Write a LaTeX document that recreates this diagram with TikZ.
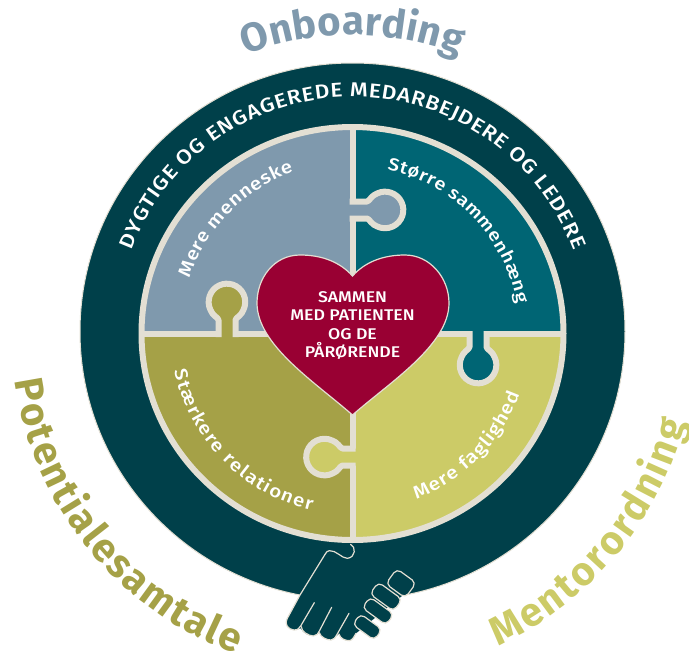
\documentclass[tikz,border=0pt]{standalone}
\usepackage{fontspec}
\setmainfont{Fira Sans}
\newfontfamily\widefont[FakeStretch=1.14]{Fira Sans Medium}
\usetikzlibrary{decorations.text}
\definecolor{ringdark}{HTML}{00404A}
\definecolor{teal}{HTML}{006574}
\definecolor{greyblue}{HTML}{7F99AD}
\definecolor{olive}{HTML}{A5A147}
\definecolor{yellowg}{HTML}{CCCB67}
\definecolor{beige}{HTML}{E3DFD3}
\definecolor{heartred}{HTML}{990033}
\tikzset{
  curvetext/.style={decorate,decoration={text along path,text align={fit to path},text={#1}}},
  handline/.style={draw=beige,line width=1.2pt,line join=round,line cap=round},
  seam/.style={draw=beige,line width=6pt},
}
\newcommand{\knob}[5]{% x, y, rotate, distance, colour
  \begin{scope}[shift={(#1,#2)},rotate=#3]
  \fill[#5] (-8.5,4) -- (-8.5,-#4+18) .. controls (-8.5,-#4+16) and (-15,-#4+13) .. (-16.5,-#4+8)
     arc[start angle=154,end angle=386,radius=18.3]
     .. controls (15,-#4+13) and (8.5,-#4+16) .. (8.5,-#4+18) -- (8.5,4) -- cycle;
  \draw[seam,line join=round] (-8.5,3) -- (-8.5,-#4+18) .. controls (-8.5,-#4+16) and (-15,-#4+13) .. (-16.5,-#4+8)
     arc[start angle=154,end angle=386,radius=18.3]
     .. controls (15,-#4+13) and (8.5,-#4+16) .. (8.5,-#4+18) -- (8.5,3);
  \end{scope}}
\begin{document}
\begin{tikzpicture}[x=1pt,y=-1pt]
\useasboundingbox (0,0) rectangle (689,657);
\def\cx{352.5}\def\cy{333}
\coordinate (C) at (\cx,\cy);
% ring
\fill[ringdark,draw=beige,line width=1pt] (352.5,331.5) ellipse[x radius=272.5,y radius=268.5];
% quadrants
\begin{scope}
\clip (352.5,333.5) ellipse[x radius=211,y radius=206.5];
\fill[greyblue] (\cx-215,\cy-215) rectangle (\cx,\cy+1);
\fill[teal] (\cx,\cy-215) rectangle (\cx+215,\cy+1);
\fill[olive] (\cx-215,\cy+1) rectangle (\cx,\cy+215);
\fill[yellowg] (\cx,\cy+1) rectangle (\cx+215,\cy+215);
\end{scope}
\draw[seam] (352.5,333.5) ellipse[x radius=211,y radius=206.5];
% straight seams
\draw[seam] (\cx,\cy-207) -- (\cx,\cy+207);
\draw[seam] (\cx-211,\cy+1) -- (\cx+211,\cy+1);
\knob{227}{334}{0}{32}{olive}
\knob{352.5}{210}{-90}{32.5}{greyblue}
\knob{478}{334}{180}{31}{teal}
\knob{352.5}{457}{90}{28}{yellowg}
% heart
\draw[fill=heartred,draw=beige,line width=1.2pt] (352.5,276)
  .. controls (340,262) and (322,255) .. (300,255)
  .. controls (274,255) and (257,278) .. (257,303)
  .. controls (257,345) and (315,382) .. (352.5,415)
  .. controls (390,382) and (449,345) .. (449,303)
  .. controls (449,278) and (430,255) .. (405,255)
  .. controls (383,255) and (365,262) .. (352.5,276) -- cycle;
\node[white,font=\fontsize{15.5}{18.4}\selectfont\widefont,align=center,inner sep=0] (hearttext) at (352.5,325.5) {SAMMEN\\MED PATIENTEN\\OG DE\\PÅRØRENDE};
% curved text
\path[curvetext={|\fontsize{20}{20}\selectfont\widefont\color{white}|DYGTIGE OG ENGAGEREDE MEDARBEJDERE OG LEDERE}] (C) ++(200.5:236) arc[start angle=200.5,end angle=339.5,radius=236];
\path[curvetext={|\fontsize{18}{18}\selectfont\widefont\color{white}|Mere menneske}] (C) ++(198.5:172) arc[start angle=198.5,end angle=250,radius=172];
\path[curvetext={|\fontsize{17.5}{18}\selectfont\widefont\color{white}|Større sammenhæng}] (C) ++(282:167) arc[start angle=282,end angle=350,radius=167];
\path[curvetext={|\fontsize{18}{18}\selectfont\widefont\color{white}|Stærkere relationer}] (C) ++(168:182) arc[start angle=168,end angle=103,radius=182];
\path[curvetext={|\fontsize{18}{18}\selectfont\widefont\color{white}|Mere faglighed}] (C) ++(69:178) arc[start angle=69,end angle=20,radius=178];
\path[curvetext={|\fontsize{40}{40}\selectfont\bfseries\color{greyblue}|Onboarding}] (C) ++(249:298) arc[start angle=249,end angle=291,radius=298];
\path[curvetext={|\fontsize{40}{40}\selectfont\bfseries\color{olive}|Potentialesamtale}] (C) ++(172:341) arc[start angle=172,end angle=110,radius=341];
\path[curvetext={|\fontsize{40}{40}\selectfont\bfseries\color{yellowg}|Mentorordning}] (C) ++(65:345) arc[start angle=65,end angle=15,radius=345];
% hand, in the coordinates of the zoomed crop
\begin{scope}[shift={(230,500)},scale=0.33333]
\fill[ringdark] (362,133) .. controls (378,140) and (378,172) .. (352,175)
  .. controls (335,175) and (318,150) .. (298,152)
  .. controls (293,152) and (290,156) .. (287,160) -- (210,285) -- (172,355)
  .. controls (162,375) and (175,388) .. (192,390)
  .. controls (203,390) and (208,385) .. (212,385)
  .. controls (220,400) and (235,407) .. (250,408) -- (268,398)
  .. controls (272,412) and (290,420) .. (303,420) -- (327,402)
  .. controls (330,415) and (345,422) .. (358,422)
  .. controls (368,420) and (372,410) .. (378,400) -- (550,260) -- cycle;
\draw[handline] (362,133) .. controls (378,140) and (378,172) .. (352,175)
  .. controls (335,175) and (318,150) .. (298,152)
  .. controls (293,152) and (290,156) .. (287,160) -- (210,285) -- (172,355)
  .. controls (162,375) and (175,388) .. (192,390)
  .. controls (203,390) and (208,385) .. (212,378) -- (253,308);
\draw[handline] (214,380) .. controls (214,395) and (235,407) .. (250,408)
  .. controls (260,408) and (265,400) .. (268,393) -- (305,322);
\draw[handline] (268,398) .. controls (272,412) and (290,420) .. (303,420)
  .. controls (312,420) and (316,413) .. (320,405) -- (357,340);
\draw[handline] (327,402) .. controls (330,415) and (345,422) .. (358,422)
  .. controls (368,420) and (372,410) .. (378,400);
\foreach \px/\py/\hl/\hw in {513/250/36/28,468/290/44/22,444/333/44/20,412/381/40/20}{
  \draw[fill=ringdark,handline,rounded corners=5pt,rotate around={-36:(\px,\py)}] (\px-\hl,\py-\hw) rectangle (\px+\hl,\py+\hw);
}
\end{scope}
\end{tikzpicture}
\end{document}
